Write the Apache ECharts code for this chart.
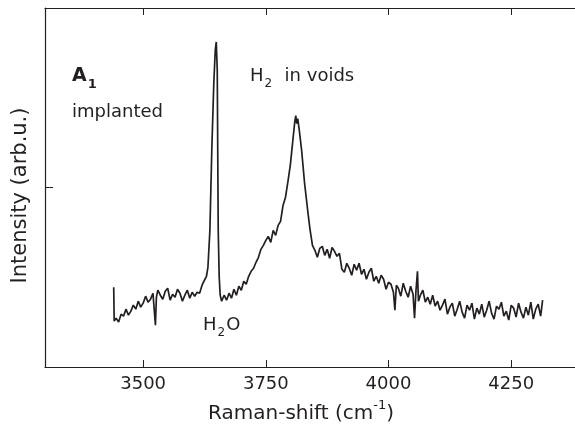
<!doctype html>
<html>
<head>
  <meta charset="utf-8">
  <style>
    html, body { margin: 0; padding: 0; background: #fff; }
    #chart { width: 575px; height: 427px; }
  </style>
</head>
<body>
  <div id="chart"></div>
  <script src="https://cdn.jsdelivr.net/npm/echarts@6/dist/echarts.min.js"></script>
  <script>
    // Raman shift (cm-1)
    var shift = [
      3440, 3441, 3445, 3450, 3455, 3460, 3465, 3470, 3475, 3480, 3485, 3490, 3495, 3500, 3505, 3510, 3515, 3520,
      3525, 3527, 3530, 3535, 3540, 3545, 3550, 3555, 3560, 3565, 3570, 3575, 3580, 3585, 3590, 3595, 3600, 3605,
      3610, 3615, 3620, 3625, 3629, 3632, 3636, 3640, 3644, 3647, 3649, 3651, 3653, 3655, 3657, 3660, 3665, 3670,
      3675, 3680, 3685, 3690, 3695, 3700, 3705, 3710, 3715, 3720, 3725, 3730, 3735, 3740, 3745, 3750, 3755, 3760,
      3765, 3770, 3775, 3780, 3785, 3790, 3795, 3800, 3805, 3809, 3811, 3813, 3815, 3818, 3823, 3829, 3836, 3840,
      3845, 3850, 3855, 3860, 3865, 3870, 3875, 3880, 3885, 3890, 3895, 3900, 3905, 3910, 3915, 3920, 3925, 3930,
      3935, 3940, 3945, 3950, 3955, 3960, 3965, 3970, 3975, 3980, 3985, 3990, 3995, 4000, 4005, 4010, 4013, 4016,
      4020, 4025, 4030, 4035, 4040, 4045, 4050, 4053, 4056, 4059, 4061, 4065, 4070, 4075, 4080, 4085, 4090, 4095,
      4100, 4105, 4110, 4115, 4120, 4125, 4130, 4135, 4140, 4145, 4150, 4155, 4160, 4165, 4170, 4175, 4180, 4185,
      4190, 4195, 4200, 4205, 4210, 4215, 4220, 4225, 4230, 4235, 4240, 4245, 4250, 4255, 4260, 4265, 4270, 4275,
      4280, 4285, 4290, 4295, 4300, 4305, 4310, 4314
    ];
    // intensity (arb.u.)
    var intensity = [
      80, 46, 49, 45, 53, 51, 58, 52, 56, 62, 58, 66, 60, 64, 71, 65, 68, 74,
      42, 70, 77, 72, 68, 76, 79, 67, 73, 70, 78, 74, 66, 72, 77, 69, 75, 71,
      75, 74, 82, 87, 91, 100, 137, 220, 285, 318, 326, 298, 137, 90, 72, 66, 72, 67,
      74, 69, 78, 72, 81, 77, 86, 83, 91, 96, 99, 105, 110, 118, 122, 127, 131, 125,
      137, 132, 142, 146, 162, 170, 186, 203, 227, 246, 252, 244, 249, 238, 217, 184, 154, 138,
      122, 117, 110, 119, 121, 112, 118, 109, 120, 116, 111, 114, 98, 95, 104, 99, 92, 103,
      97, 104, 93, 98, 88, 95, 99, 86, 91, 84, 92, 88, 78, 85, 83, 75, 57, 82,
      79, 71, 84, 76, 70, 81, 73, 49, 77, 96, 66, 72, 77, 65, 70, 63, 72, 61,
      66, 57, 62, 68, 53, 60, 64, 51, 58, 66, 55, 49, 62, 57, 64, 48, 59, 53,
      63, 50, 57, 66, 54, 48, 61, 58, 65, 51, 56, 47, 62, 59, 50, 64, 55, 49,
      60, 52, 65, 48, 58, 63, 51, 67
    ];
    var xTicks = [3500, 3750, 4000, 4250];
    var yTicks = [180];

    var ink = '#231f20';
    var font = 'DejaVu Sans';
    var points = shift.map(function (x, i) { return [x, intensity[i]]; });

    // subscript styles for rich text
    var subRich = {
      t: { fontFamily: font, fontSize: 18, fill: ink, verticalAlign: 'top', padding: [0, 0, 5, 0] },
      s: { fontFamily: font, fontSize: 12, fill: ink, verticalAlign: 'bottom', padding: [0, 1, 0, 1] }
    };

    var chart = echarts.init(document.getElementById('chart'));
    chart.setOption({
      animation: false,
      backgroundColor: '#fff',
      grid: { left: 45, right: 0, top: 8, bottom: 60, outerBoundsMode: 'none' },
      xAxis: [{
        type: 'value',
        position: 'bottom',
        min: 3300,
        max: 4380,
        name: '{t|Raman-shift (cm}{sup|-1}{t|)}',
        nameLocation: 'middle',
        nameGap: 32,
        nameTextStyle: {
          padding: [0, 18, 0, 0],
          rich: {
            t: { fontFamily: font, fontSize: 20, color: ink, verticalAlign: 'bottom', padding: [5, 0, 0, 0] },
            sup: { fontFamily: font, fontSize: 13, color: ink, verticalAlign: 'top' }
          }
        },
        axisLine: { lineStyle: { color: ink, width: 1.2 } },
        axisTick: { inside: true, length: 7, customValues: xTicks, lineStyle: { color: ink } },
        axisLabel: {
          customValues: xTicks, margin: 8, fontFamily: font, fontSize: 18, color: ink,
          formatter: function (v) { return String(v); }
        },
        splitLine: { show: false }
      }, {
        type: 'value',
        position: 'top',
        min: 3300,
        max: 4380,
        axisLine: { lineStyle: { color: ink, width: 1.2 } },
        axisTick: { inside: true, length: 7, customValues: xTicks, lineStyle: { color: ink } },
        axisLabel: { show: false },
        splitLine: { show: false }
      }],
      yAxis: {
        type: 'value',
        min: 0,
        max: 360,
        name: 'Intensity (arb.u.)',
        nameLocation: 'middle',
        nameGap: 14,
        nameTextStyle: { fontFamily: font, fontSize: 21, color: ink, padding: [0, 16, 0, 0] },
        axisLine: { show: true, lineStyle: { color: ink, width: 1.2 } },
        axisTick: { inside: true, length: 8, customValues: yTicks, lineStyle: { color: ink } },
        axisLabel: { show: false },
        splitLine: { show: false }
      },
      series: [{
        type: 'line',
        data: points,
        showSymbol: false,
        lineStyle: { color: ink, width: 1.7 },
        silent: true
      }],
      graphic: [
        {
          type: 'text', left: 72, top: 67,
          style: {
            text: '{a|A}{s|1}',
            rich: {
              a: { fontFamily: font, fontSize: 19, fontWeight: 'bold', fill: ink, verticalAlign: 'top', padding: [0, 0, 5, 0] },
              s: { fontFamily: font, fontSize: 13, fontWeight: 'bold', fill: ink, verticalAlign: 'bottom', padding: [0, 0, 0, 1] }
            }
          }
        },
        {
          type: 'text', left: 72, top: 103,
          style: { text: 'implanted', fontFamily: font, fontSize: 18, fill: ink }
        },
        {
          type: 'text', left: 250, top: 67,
          style: { text: '{t|H}{s|2}{t|  in voids}', rich: subRich }
        },
        {
          type: 'text', left: 203, top: 316,
          style: { text: '{t|H}{s|2}{t|O}', rich: subRich }
        }
      ]
    });
  </script>
</body>
</html>
